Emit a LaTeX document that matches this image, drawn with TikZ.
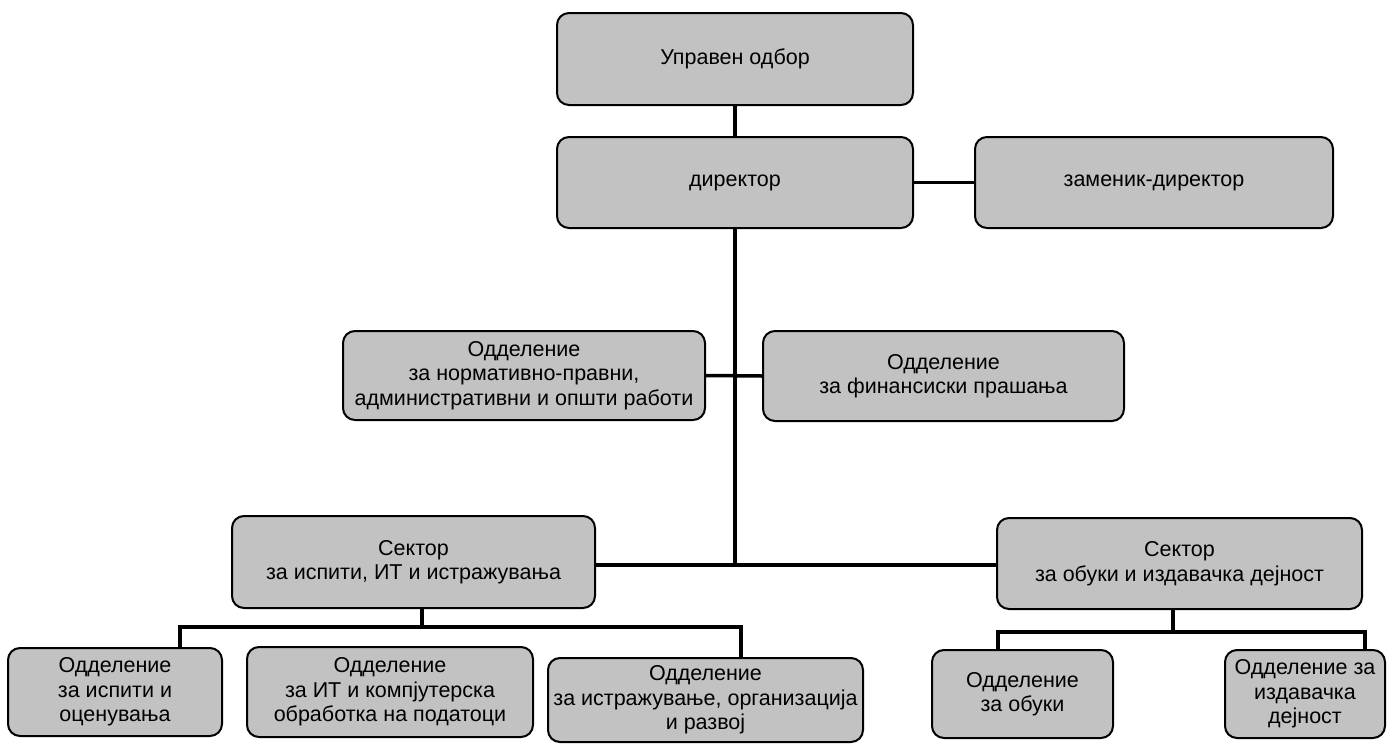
\documentclass[tikz,border=0pt]{standalone}
\usepackage{fontspec}
\setmainfont{Liberation Sans}
\definecolor{boxgray}{gray}{0.76}
\begin{document}
\begin{tikzpicture}[x=1pt,y=-1pt,
  box/.style={draw=black, line width=2pt, rounded corners=12pt, fill=boxgray,
    align=center, inner sep=0pt, font=\fontsize{21.5}{24.5}\selectfont},
  conn/.style={line width=3.5pt}]
\useasboundingbox (0,0) rectangle (1400,744);
% boxes
\node[box, minimum width=356pt, minimum height=92pt] (upr) at (735,59) {Управен одбор};
\node[box, minimum width=356pt, minimum height=91pt] (dir) at (735,182.5) {директор};
\node[box, minimum width=358pt, minimum height=91pt] (zam) at (1154,182.5) {заменик-директор};
\node[box, minimum width=362pt, minimum height=89pt] (norm) at (524,375.5) {Одделение\\за нормативно-правни,\\административни и општи работи};
\node[box, minimum width=361pt, minimum height=90pt] (fin) at (943.5,376) {Одделение\\за финансиски прашања};
\node[box, minimum width=363pt, minimum height=92pt] (secL) at (413.5,562) {Сектор\\за испити, ИТ и истражувања};
\node[box, minimum width=365pt, minimum height=91pt] (secR) at (1179.5,563.5) {Сектор\\за обуки и издавачка дејност};
\node[box, minimum width=214pt, minimum height=88pt] (b1) at (115,692) {Одделение\\за испити и\\оценувања};
\node[box, minimum width=286pt, minimum height=90pt] (b2) at (390,692) {Одделение\\за ИТ и компјутерска\\обработка на податоци};
\node[box, minimum width=315pt, minimum height=84pt] (b3) at (705.5,700) {Одделение\\за истражување, организација\\и развој};
\node[box, minimum width=181pt, minimum height=88pt] (b4) at (1022.5,694) {Одделение\\за обуки};
\node[box, minimum width=160pt, minimum height=88pt] (b5) at (1305,694) {Одделение за\\издавачка\\дејност};
% junction coordinates
\coordinate (J) at (735,565);
\coordinate (L) at (422,627);
\coordinate (s1) at (180,627);
\coordinate (s3) at (741,627);
\coordinate (R) at (1173,632);
\coordinate (r1) at (998,632);
\coordinate (r2) at (1365,632);
% connectors
\draw[conn] (upr.south) -- (dir.north);
\draw[conn] (dir.east) -- (zam.west);
\draw[conn] (dir.south) -- (J);
\draw[conn] (norm.east) -- (fin.west);
\draw[conn] (secL.east |- J) -- (secR.west |- J);
\draw[conn] (secL.south -| L) -- (L);
\draw[conn] (b1.north -| s1) -- (s1) -- (s3) -- (b3.north -| s3);
\draw[conn] (secR.south -| R) -- (R);
\draw[conn] (b4.north -| r1) -- (r1) -- (r2) -- (b5.north -| r2);
\end{tikzpicture}
\end{document}
